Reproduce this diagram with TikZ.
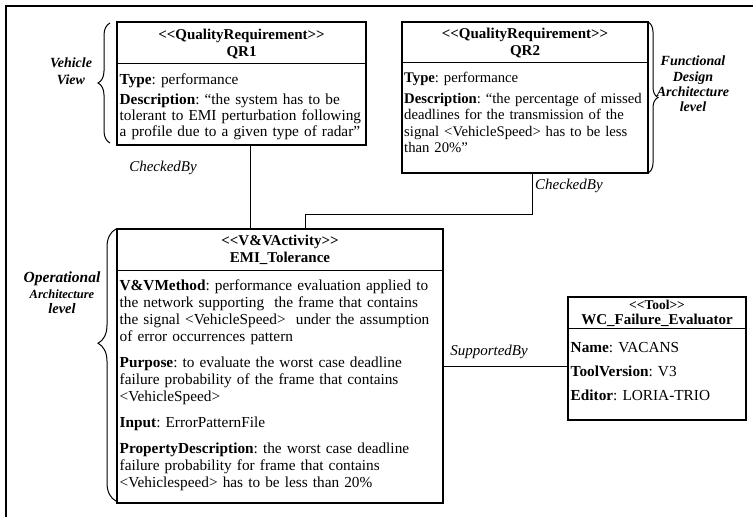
\documentclass[tikz,border=0pt]{standalone}
\usepackage{fontspec}
\setmainfont{Liberation Serif}
\usetikzlibrary{decorations.pathreplacing,calc}

% stereotype guillemets written as two separate angle brackets
\newcommand{\stopen}{<\kern0pt<}
\newcommand{\stclose}{>\kern0pt>}
\frenchspacing

\begin{document}
\begin{tikzpicture}[x=1pt,y=-1pt,
  frame/.style={line width=1.6pt},
  umlbox/.style={draw, line width=1.3pt, rectangle, anchor=north west, inner sep=0pt, outer sep=0pt},
  sepline/.style={line width=1pt},
  hdr/.style={align=center, inner sep=0pt, font=\fontsize{15}{17}\selectfont\bfseries},
  body/.style={anchor=north west, align=left, text width=420pt, inner sep=0pt,
               font=\fontsize{15.3}{16}\selectfont},
  link/.style={line width=1pt},
  role/.style={font=\fontsize{15}{16}\selectfont\itshape, inner sep=0pt},
  side/.style={align=center, inner sep=0pt, font=\fontsize{14}{17}\selectfont\bfseries\itshape},
  curly/.style={decorate, decoration={brace, amplitude=#1}, line width=1pt},
]
\useasboundingbox (0,0) rectangle (753,517);

% enclosing frame
\draw[frame] (6,517) -- (6,6) -- (753,6);

% ---------- QR1 ----------
\node[umlbox, minimum width=249pt, minimum height=123pt] (qrone) at (117,22) {};
\draw[sepline] ($(qrone.north west)+(0,41)$) coordinate (qronesepl) -- ($(qrone.north east)+(0,41)$);
\node[hdr] (qronehead) at ($(qrone.north)+(0,22)$) {\stopen QualityRequirement\stclose\\QR1};
\node[body] (qronebody) at ($(qronesepl)+(2.5,11)$) {\parindent=0pt\parskip=4pt
\textbf{Type}: performance\par
\textbf{Description}: “the system has to be\\
tolerant to EMI perturbation following\\
a profile due to a given type of radar”};

% ---------- QR2 ----------
\node[umlbox, minimum width=246pt, minimum height=151pt] (qrtwo) at (402,22) {};
\draw[sepline] ($(qrtwo.north west)+(0,40)$) coordinate (qrtwosepl) -- ($(qrtwo.north east)+(0,40)$);
\node[hdr] (qrtwohead) at ($(qrtwo.north)+(0,21)$) {\stopen QualityRequirement\stclose\\QR2};
\node[body, font=\fontsize{14.7}{16.2}\selectfont] (qrtwobody) at ($(qrtwosepl)+(2,10)$) {\parindent=0pt\parskip=5pt
\textbf{Type}: performance\par
\textbf{Description}: “the percentage of missed\\
deadlines for the transmission of the\\
signal <VehicleSpeed> has to be less\\
than 20\%”};

% ---------- EMI_Tolerance ----------
\node[umlbox, minimum width=326pt, minimum height=274pt] (emi) at (117,229) {};
\draw[sepline] ($(emi.north west)+(0,41)$) coordinate (emisepl) -- ($(emi.north east)+(0,41)$);
\node[hdr] (emihead) at ($(emi.north)+(0,21)$) {\stopen V\&VActivity\stclose\\EMI\_Tolerance};
\node[body, font=\fontsize{15.3}{17}\selectfont] (emibody) at ($(emisepl)+(2.5,10)$) {\parindent=0pt\parskip=9pt
\textbf{V\&VMethod}: performance evaluation applied to\\
the network supporting\ \ the frame that contains\\
the signal <VehicleSpeed>\ \ under the assumption\\
of error occurrences pattern\par
\textbf{Purpose}: to evaluate the worst case deadline\\
failure probability of the frame that contains\\
<VehicleSpeed>\par
\textbf{Input}: ErrorPatternFile\par
\textbf{PropertyDescription}: the worst case deadline\\
failure probability for frame that contains\\
<Vehiclespeed> has to be less than 20\%};

% ---------- WC_Failure_Evaluator ----------
\node[umlbox, minimum width=178pt, minimum height=123pt] (tool) at (568,297) {};
\draw[sepline] ($(tool.north west)+(0,31)$) coordinate (toolsepl) -- ($(tool.north east)+(0,31)$);
\node[hdr, font=\fontsize{15}{15}\selectfont\bfseries] (toolhead) at ($(tool.north)+(0,16)$)
  {{\fontsize{13.5}{15}\selectfont\stopen Tool\stclose}\\WC\_Failure\_Evaluator};
\node[body] (toolbody) at ($(toolsepl)+(2.5,14)$) {\parindent=0pt\parskip=8pt
\textbf{Name}: VACANS\par
\textbf{ToolVersion}: V3\par
\textbf{Editor}: LORIA-TRIO};

% ---------- connectors ----------
\coordinate (qronefoot) at ($(qrone.south west)+(133,0)$);
\draw[link] (qronefoot) -- (qronefoot |- emi.north);

\coordinate (qrtwofoot) at ($(qrtwo.south west)+(130,0)$);
\coordinate (emihook) at ($(emi.north west)+(188,0)$);
\coordinate (bend) at ($(emihook)+(0,-15)$);
\draw[link] (qrtwofoot) |- (bend) -- (emihook);

\draw[link] (emi.east) -- (emi.east -| tool.west);

\node[role] (chkone) at (163,168) {CheckedBy};
\node[role, anchor=west] (chktwo) at (535,186) {CheckedBy};
\node[role] (supp) at (489,352) {SupportedBy};

% ---------- level braces ----------
\draw[curly=12] (110,143) -- (110,23);
\node[side] (vehview) at (71,71) {Vehicle\\View};

\draw[curly=10] (648,22) -- (648,173);
\node[side, font=\fontsize{14}{15.3}\selectfont\bfseries\itshape] (funcdesign) at (693,84) {Functional\\Design\\Architecture\\level};

\draw[curly=18, decoration={aspect=0.58}] (116,501) -- (116,229);
\node[font=\fontsize{15.5}{16}\selectfont\bfseries\itshape, inner sep=0pt] (operword) at (62,279) {Operational};
\node[font=\fontsize{12.5}{14}\selectfont\bfseries\itshape, inner sep=0pt] (archword) at (62,294) {Architecture};
\node[font=\fontsize{14.5}{16}\selectfont\bfseries\itshape, inner sep=0pt] (levelword) at (62,309) {level};
\end{tikzpicture}
\end{document}
